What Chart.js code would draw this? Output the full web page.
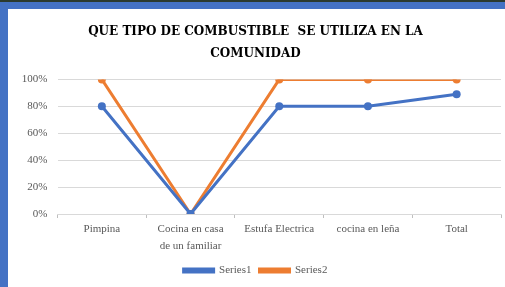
<!DOCTYPE html>
<html>
<head>
<meta charset="utf-8">
<script src="https://cdn.jsdelivr.net/npm/chart.js@4"></script>
<style>
  html, body { margin: 0; padding: 0; background: #fff; }
  body { width: 505px; height: 287px; overflow: hidden; }
  .frame { position: absolute; left: 0; top: 0; width: 505px; height: 287px; background: #4472c4; border-top: 2px solid #2b3a2e; box-sizing: border-box; }
  .card { position: absolute; left: 8px; top: 9px; width: 497px; height: 278px; background: #fff; }
</style>
</head>
<body>
<div class="frame"></div>
<div class="card"><canvas id="chart" width="497" height="278"></canvas></div>
<script>
const categories = ['Pimpina', ['Cocina en casa', 'de un familiar'], 'Estufa Electrica', 'cocina en leña', 'Total'];
const series1 = [0.8, 0, 0.8, 0.8, 0.89];
const series2 = [1, 0, 1, 1, 1];
const yTicks = [0, 0.2, 0.4, 0.6, 0.8, 1];

const labelFont = { family: 'Liberation Serif', size: 11, lineHeight: 1.5 };

new Chart(document.getElementById('chart').getContext('2d'), {
  type: 'line',
  data: {
    labels: categories,
    datasets: [
      { label: 'Series1', data: series1, borderColor: '#4472c4', backgroundColor: '#4472c4', borderWidth: 3, pointRadius: 4, pointBackgroundColor: '#4472c4', pointBorderWidth: 0, tension: 0 },
      { label: 'Series2', data: series2, borderColor: '#ed7d31', backgroundColor: '#ed7d31', borderWidth: 3, pointRadius: 4, pointBackgroundColor: '#ed7d31', pointBorderWidth: 0, tension: 0 },
    ],
  },
  options: {
    responsive: false, animation: false,
    layout: { padding: { left: 0, right: 2, top: 12, bottom: 1 } },
    plugins: {
      title: {
        display: true,
        text: ['QUE TIPO DE COMBUSTIBLE  SE UTILIZA EN LA', 'COMUNIDAD'],
        font: { family: 'DejaVu Serif', size: 12, weight: 'bold', lineHeight: 1.85 },
        color: '#000',
        padding: { top: 0, bottom: 14 },
      },
      legend: {
        position: 'bottom',
        labels: { boxWidth: 30, boxHeight: 3, font: { family: 'Liberation Serif', size: 11 }, color: '#595959', padding: 8 },
      },
      tooltip: { enabled: false },
    },
    scales: {
      x: {
        offset: true,
        grid: { display: true, offset: true, drawOnChartArea: false, tickLength: 4, color: '#bfbfbf' },
        border: { color: '#d9d9d9' },
        ticks: { font: labelFont, color: '#595959', padding: 3, maxRotation: 0, autoSkip: false },
      },
      y: {
        min: 0, max: 1,
        afterBuildTicks: s => { s.ticks = yTicks.map(v => ({ value: v })); },
        afterFit: s => { s.width = 49.5; },
        grid: { color: '#d9d9d9', drawTicks: false },
        border: { display: false },
        ticks: { font: { family: 'Liberation Serif', size: 11 }, color: '#595959', padding: 10, callback: v => Math.round(v * 100) + '%' },
      },
    },
  },
});
</script>
</body>
</html>
